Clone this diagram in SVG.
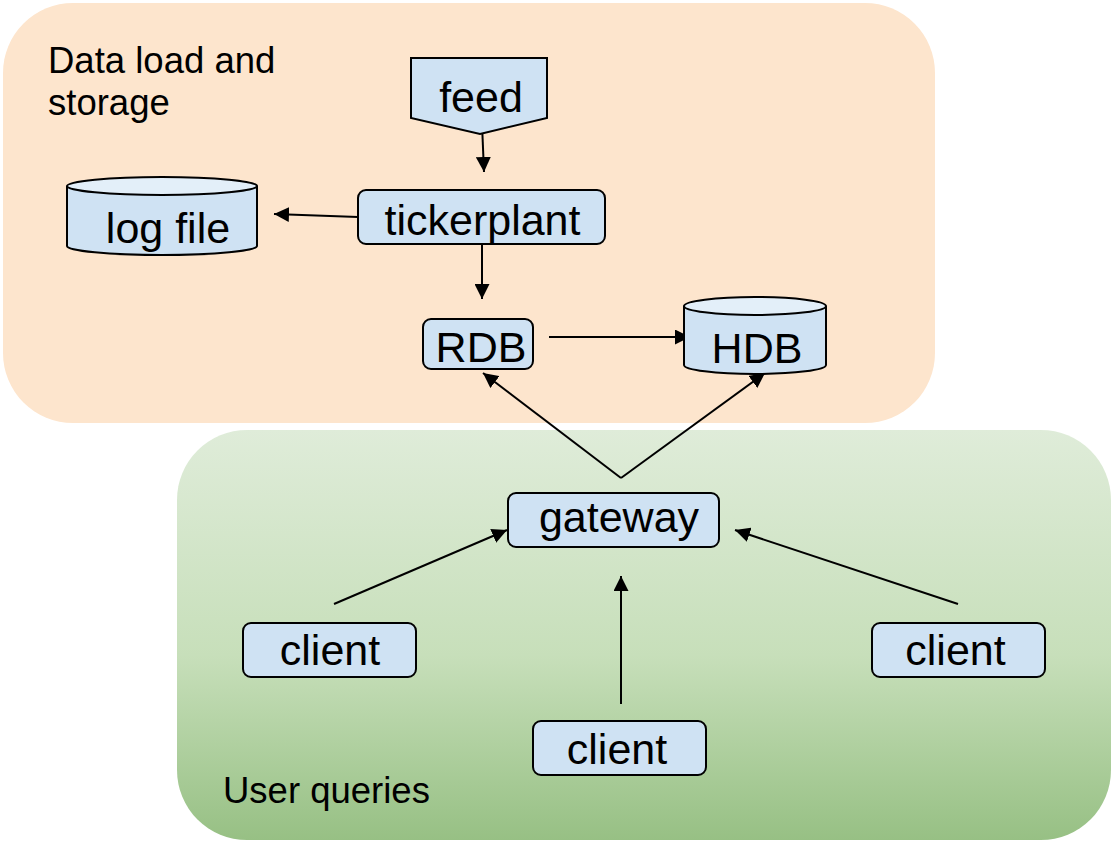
<svg xmlns="http://www.w3.org/2000/svg" width="1112" height="842" viewBox="0 0 1112 842">
<defs>
<linearGradient id="g" x1="0" y1="0" x2="0" y2="1">
<stop offset="0" stop-color="#dfecd9"/>
<stop offset="0.55" stop-color="#c7dfba"/>
<stop offset="1" stop-color="#97c084"/>
</linearGradient>
<marker id="ah" viewBox="0 0 10 10" refX="10" refY="5" markerWidth="15" markerHeight="15" markerUnits="userSpaceOnUse" orient="auto">
<path d="M0,0 L10,5 L0,10 z" fill="#000"/>
</marker>
<style>
.n{fill:#cfe2f3;stroke:#000;stroke-width:2}
.top{fill:#e3eff9;stroke:#000;stroke-width:2}
.t{font-family:"Liberation Sans",Arial,sans-serif;font-size:43px;fill:#000;text-anchor:middle}
.l{font-family:"Liberation Sans",Arial,sans-serif;font-size:36.5px;fill:#000}
.a{stroke:#000;stroke-width:2;fill:none;marker-end:url(#ah)}
</style>
</defs>
<g id="group-storage">
<rect x="3" y="3" width="932" height="420" rx="70" fill="#fde5cd"/>
<text class="l" x="48" y="73">Data load and</text>
<text class="l" x="48" y="115">storage</text>
</g>
<g id="group-queries">
<rect x="177" y="430" width="934" height="410" rx="70" fill="url(#g)"/>
<text class="l" x="223" y="803">User queries</text>
</g>
<g id="connectors">
<path class="a" d="M482,124 L484,172"/>
<path class="a" d="M358,217 L274,214"/>
<path class="a" d="M482,244 L482,299"/>
<path class="a" d="M549,337 L690,337"/>
<path class="a" d="M621,478 L483,373"/>
<path class="a" d="M621,478 L765,373"/>
<path class="a" d="M334,604 L507,530"/>
<path class="a" d="M958,604 L735,530"/>
<path class="a" d="M621,704 L621,576"/>
</g>
<g id="node-feed">
<path class="n" d="M411,58 L547,58 L547,118 L480,134 L411,118 Z"/>
<text class="t" x="481" y="112">feed</text>
</g>
<g id="node-tickerplant">
<rect class="n" x="358" y="190" width="247" height="54" rx="8"/>
<text class="t" x="482.5" y="235">tickerplant</text>
</g>
<g id="node-logfile">
<path class="n" d="M67,186 L67,246 A95,9 0 0 0 257,246 L257,186"/>
<ellipse class="top" cx="162" cy="186" rx="95" ry="9"/>
<text class="t" x="168" y="243">log file</text>
</g>
<g id="node-rdb">
<rect class="n" x="423" y="319" width="110" height="50" rx="8"/>
<text class="t" x="481" y="362">RDB</text>
</g>
<g id="node-hdb">
<path class="n" d="M684,306 L684,365 A71,9 0 0 0 826,365 L826,306"/>
<ellipse class="top" cx="755" cy="306" rx="71" ry="9"/>
<text class="t" x="757" y="363">HDB</text>
</g>
<g id="node-gateway">
<rect class="n" x="508" y="493" width="211" height="54" rx="8"/>
<text class="t" x="619" y="532">gateway</text>
</g>
<g id="node-client-left">
<rect class="n" x="243" y="623" width="173" height="54" rx="8"/>
<text class="t" x="330" y="665">client</text>
</g>
<g id="node-client-right">
<rect class="n" x="872" y="623" width="173" height="54" rx="8"/>
<text class="t" x="955.5" y="665">client</text>
</g>
<g id="node-client-bottom">
<rect class="n" x="533" y="721" width="173" height="54" rx="8"/>
<text class="t" x="617" y="764">client</text>
</g>
</svg>
